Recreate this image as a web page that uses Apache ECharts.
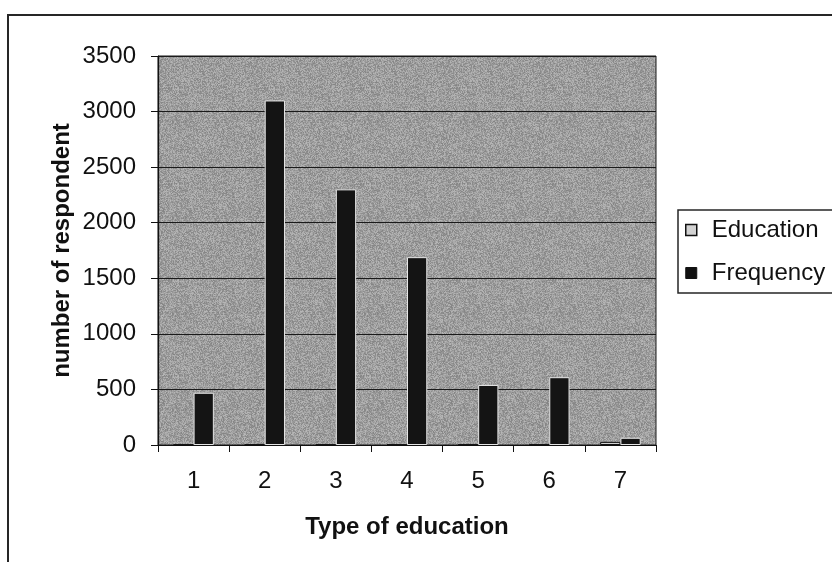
<!DOCTYPE html>
<html>
<head>
<meta charset="utf-8">
<script src="https://cdn.jsdelivr.net/npm/echarts@6/dist/echarts.min.js"></script>
<style>
  html, body { margin: 0; padding: 0; background: #ffffff; }
  #chart { width: 832px; height: 562px; }
</style>
</head>
<body>
<div id="chart"></div>
<script>
// Survey data: respondents per type of education
const categories = ['1', '2', '3', '4', '5', '6', '7'];
const educationValues = [5, 5, 5, 5, 5, 5, 28];
const frequencyValues = [470, 3100, 2300, 1690, 540, 610, 65];
const yTicks = { min: 0, max: 3500, interval: 500 };

const FONT = '"Liberation Sans", Arial, sans-serif';
const FS = 24;

// Grainy grey fill for the plot area (deterministic LCG so it is stable)
function makeGrain() {
  const c = document.createElement('canvas');
  c.width = 96; c.height = 96;
  const ctx = c.getContext('2d');
  const img = ctx.createImageData(96, 96);
  let s = 12345;
  for (let i = 0; i < 96 * 96; i++) {
    s = (s * 1103515245 + 12345) & 0x7fffffff;
    const v = 158 + ((s >> 8) % 52) - 26;
    img.data[i * 4] = v;
    img.data[i * 4 + 1] = v;
    img.data[i * 4 + 2] = v;
    img.data[i * 4 + 3] = 255;
  }
  ctx.putImageData(img, 0, 0);
  return c;
}

const chart = echarts.init(document.getElementById('chart'), null, { renderer: 'canvas' });

chart.setOption({
  backgroundColor: '#ffffff',
  animation: false,
  textStyle: { fontFamily: FONT },
  graphic: [{
    type: 'rect',
    shape: { x: 8, y: 15, width: 900, height: 700 },
    style: { fill: 'none', stroke: '#262626', lineWidth: 2 },
    silent: true,
    z: -10
  }],
  grid: {
    left: 158, right: 176, top: 56, bottom: 117,
    show: true,
    backgroundColor: { image: makeGrain(), repeat: 'repeat' },
    borderColor: '#1a1a1a',
    borderWidth: 1
  },
  legend: {
    orient: 'vertical',
    left: 678, top: 210,
    padding: [8, 30, 8, 7],
    itemGap: 19,
    itemWidth: 11, itemHeight: 11,
    icon: 'rect',
    borderColor: '#262626', borderWidth: 1.5,
    backgroundColor: '#ffffff',
    textStyle: { fontFamily: FONT, fontSize: FS, color: '#111', padding: [0, 0, 0, 10] },
    data: [
      { name: 'Education', itemStyle: { color: '#d2d2d2', borderColor: '#111', borderWidth: 1.5 } },
      { name: 'Frequency', itemStyle: { color: '#111', borderColor: '#111', borderWidth: 1 } }
    ]
  },
  xAxis: {
    type: 'category',
    data: categories,
    name: 'Type of education',
    nameLocation: 'middle',
    nameGap: 70,
    nameTextStyle: { fontFamily: FONT, fontSize: FS, fontWeight: 'bold', color: '#111' },
    axisLine: { lineStyle: { color: '#111', width: 1.2 } },
    axisTick: { show: true, length: 7, lineStyle: { color: '#111' } },
    axisLabel: { fontFamily: FONT, fontSize: FS, color: '#111', margin: 24 },
    splitLine: { show: false }
  },
  yAxis: {
    type: 'value',
    min: yTicks.min, max: yTicks.max, interval: yTicks.interval,
    name: 'number of respondent',
    nameLocation: 'middle',
    nameGap: 84,
    nameMoveOverlap: false,
    nameTextStyle: { fontFamily: FONT, fontSize: FS, fontWeight: 'bold', color: '#111' },
    axisLine: { show: true, lineStyle: { color: '#111', width: 1.2 } },
    axisTick: { show: true, length: 7, lineStyle: { color: '#111' } },
    axisLabel: { fontFamily: FONT, fontSize: FS, color: '#111', margin: 22, formatter: v => String(v) },
    splitLine: { show: true, lineStyle: { color: '#1a1a1a', width: 1 } }
  },
  series: [
    {
      name: 'Education',
      type: 'bar',
      data: educationValues,
      barGap: '0%',
      barCategoryGap: '43%',
      itemStyle: { color: '#d2d2d2', borderColor: '#111', borderWidth: 1 }
    },
    {
      name: 'Frequency',
      type: 'bar',
      data: frequencyValues,
      barGap: '0%',
      barCategoryGap: '43%',
      itemStyle: { color: '#141414', borderColor: '#e6e6e6', borderWidth: 1 }
    }
  ]
});
</script>
</body>
</html>
